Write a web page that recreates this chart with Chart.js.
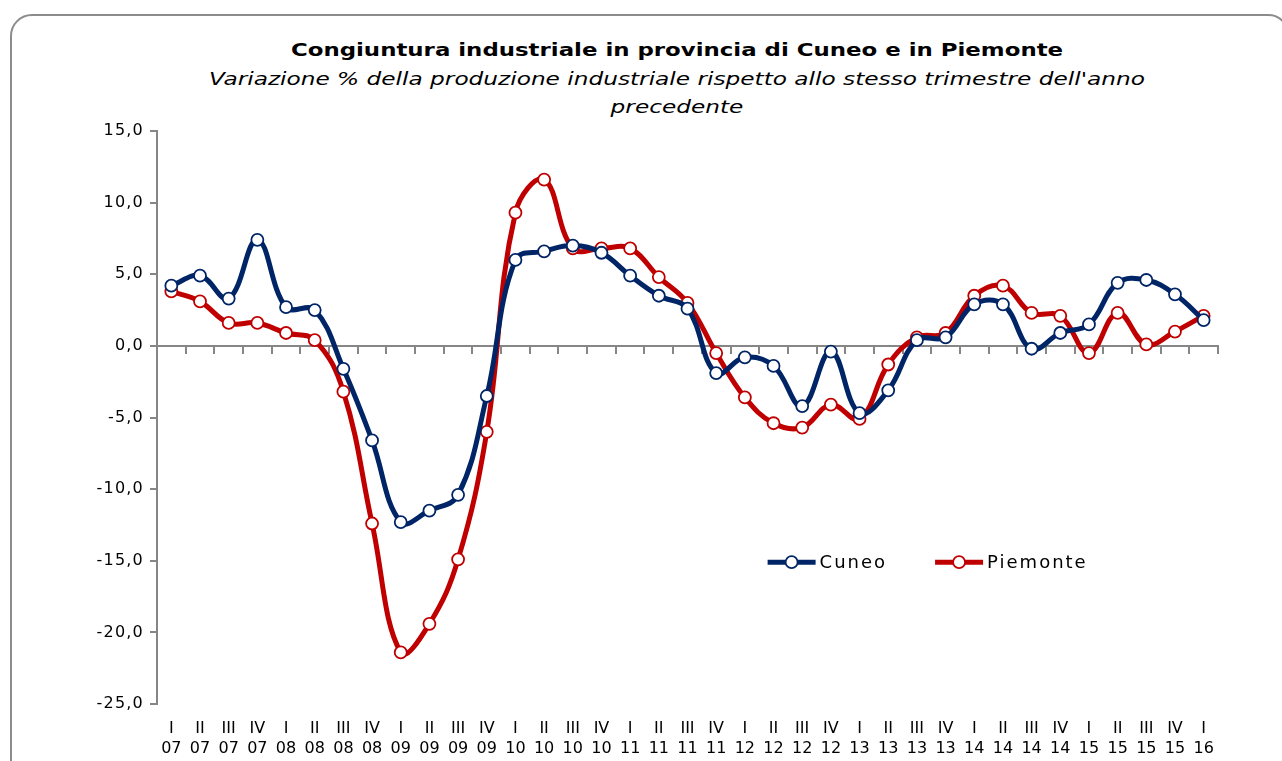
<!DOCTYPE html>
<html>
<head>
<meta charset="utf-8">
<script src="https://cdn.jsdelivr.net/npm/chart.js@4"></script>
<style>
  body { margin: 0; background: #fff; overflow: hidden; width: 1282px; height: 761px; position: relative; }
  .card { position: absolute; left: 10px; top: 14px; width: 1280px; height: 820px; border: 2px solid #8c8c8c; border-radius: 22px; box-sizing: border-box; }
  .head { position: absolute; left: 677px; white-space: nowrap; text-align: center; color: #000; font-family: "DejaVu Sans", Verdana, sans-serif; }
  #title { top: 38px; font-size: 18px; font-weight: bold; line-height: 24px; transform: translateX(-50%) scaleX(1.27); }
  #subtitle { top: 65px; font-size: 18px; font-style: italic; line-height: 28px; transform: translateX(-50%) scaleX(1.29); }
  canvas { position: absolute; left: 0; top: 0; }
</style>
</head>
<body>
<div class="card"></div>
<div class="head" id="title">Congiuntura industriale in provincia di Cuneo e in Piemonte</div>
<div class="head" id="subtitle">Variazione % della produzione industriale rispetto allo stesso trimestre dell'anno<br>precedente</div>
<canvas id="chart" width="1282" height="761"></canvas>
<script>
// quarter / year labels, I 07 .. I 16
let quarterLabels = ['I','II','III','IV','I','II','III','IV','I','II','III','IV','I','II','III','IV','I','II','III','IV',
    'I','II','III','IV','I','II','III','IV','I','II','III','IV','I','II','III','IV','I'];
let yearLabels = ['07','07','07','07','08','08','08','08','09','09','09','09','10','10','10','10','11','11','11','11',
    '12','12','12','12','13','13','13','13','14','14','14','14','15','15','15','15','16'];

let cuneoValues = [4.2, 4.9, 3.3, 7.4, 2.7, 2.5, -1.6, -6.6, -12.3, -11.5, -10.4, -3.5, 6.0, 6.6, 7.0, 6.5, 4.9, 3.5, 2.6, -1.9,
    -0.8, -1.4, -4.2, -0.4, -4.7, -3.1, 0.4, 0.6, 2.9, 2.9, -0.2, 0.9, 1.5, 4.4, 4.6, 3.6, 1.8];
let piemonteValues = [3.8, 3.1, 1.6, 1.6, 0.9, 0.4, -3.2, -12.4, -21.4, -19.4, -14.9, -6.0, 9.3, 11.6, 6.8, 6.8, 6.8, 4.8, 3.0, -0.5,
    -3.6, -5.4, -5.7, -4.1, -5.1, -1.3, 0.6, 0.9, 3.5, 4.2, 2.3, 2.1, -0.5, 2.3, 0.1, 1.0, 2.1];

let yMin = -25;
let yMax = 15;
let yStep = 5;

let labels = quarterLabels.map((q, i) => [q, yearLabels[i]]);
let axisGrey = '#868686';
let font = '"DejaVu Sans", Verdana, sans-serif';

// y tick labels are a bit wider in the original: spacing on until the datasets,
// the x labels are drawn later (z: 1) without it
let wideText = {
    id: 'wideText',
    beforeDraw(chart) { chart.ctx.letterSpacing = '1.2px'; },
    afterDatasetsDraw(chart) { chart.ctx.letterSpacing = '0px'; }
};

// legend drawn inside the plot, like the original
let insideLegend = {
    id: 'insideLegend',
    afterDatasetsDraw(chart, args, opts) {
        let { ctx, chartArea, scales } = chart;
        let y = scales.y.getPixelForValue(opts.value);
        let x = chartArea.left + opts.xFrac * (chartArea.right - chartArea.left);
        ctx.save();
        ctx.font = '18px ' + font;
        ctx.letterSpacing = '2px';
        ctx.textBaseline = 'middle';
        chart.data.datasets.forEach(ds => {
            ctx.strokeStyle = ds.borderColor;
            ctx.lineWidth = 5;
            ctx.beginPath();
            ctx.moveTo(x, y);
            ctx.lineTo(x + 48, y);
            ctx.stroke();
            ctx.beginPath();
            ctx.arc(x + 24, y, 6, 0, Math.PI * 2);
            ctx.fillStyle = '#fff';
            ctx.fill();
            ctx.lineWidth = 1.8;
            ctx.stroke();
            ctx.fillStyle = '#000';
            ctx.fillText(ds.label, x + 52, y + 1);
            x += 52 + ctx.measureText(ds.label).width + 48;
        });
        ctx.restore();
    }
};

let chart = new Chart(document.getElementById('chart'), {
    type: 'line',
    data: {
        labels: labels,
        datasets: [
            {
                label: 'Cuneo',
                data: cuneoValues,
                borderColor: '#002566',
                borderWidth: 5,
                tension: 0.4,
                pointRadius: 6,
                pointBorderWidth: 1.8,
                pointBackgroundColor: '#fff',
                pointBorderColor: '#002566'
            },
            {
                label: 'Piemonte',
                data: piemonteValues,
                borderColor: '#c00000',
                borderWidth: 5,
                tension: 0.4,
                pointRadius: 6,
                pointBorderWidth: 1.8,
                pointBackgroundColor: '#fff',
                pointBorderColor: '#c00000'
            }
        ]
    },
    options: {
        responsive: false,
        animation: false,
        layout: { padding: { top: 131, right: 64, left: 0, bottom: 0 } },
        plugins: {
            legend: { display: false },
            tooltip: { enabled: false },
            insideLegend: { xFrac: 0.5755, value: -15.1 }
        },
        scales: {
            x: {
                position: 'bottom',
                offset: true,
                grid: { display: false, drawTicks: false },
                border: { display: false },
                ticks: {
                    z: 1,
                    color: '#000',
                    padding: 14,
                    maxRotation: 0,
                    autoSkip: false,
                    font: { family: font, size: 16, lineHeight: 1.3 }
                },
                afterFit: s => { s.height = 761 - 704; }
            },
            x0: {
                type: 'category',
                position: { y: 0 },
                labels: labels,
                offset: true,
                grid: { offset: true, drawOnChartArea: false, drawTicks: true, tickLength: 7, color: axisGrey, lineWidth: 2 },
                border: { display: true, color: axisGrey, width: 2 },
                ticks: { display: false }
            },
            y: {
                min: yMin,
                max: yMax,
                grid: { drawOnChartArea: false, drawTicks: true, tickLength: 7, color: axisGrey, lineWidth: 2 },
                border: { display: true, color: axisGrey, width: 2 },
                ticks: {
                    stepSize: yStep,
                    color: '#000',
                    padding: 6,
                    font: { family: font, size: 16 },
                    callback: v => v.toFixed(1).replace('.', ',')
                },
                afterFit: s => { s.width = 157; }
            }
        }
    },
    plugins: [wideText, insideLegend]
});
</script>
</body>
</html>
